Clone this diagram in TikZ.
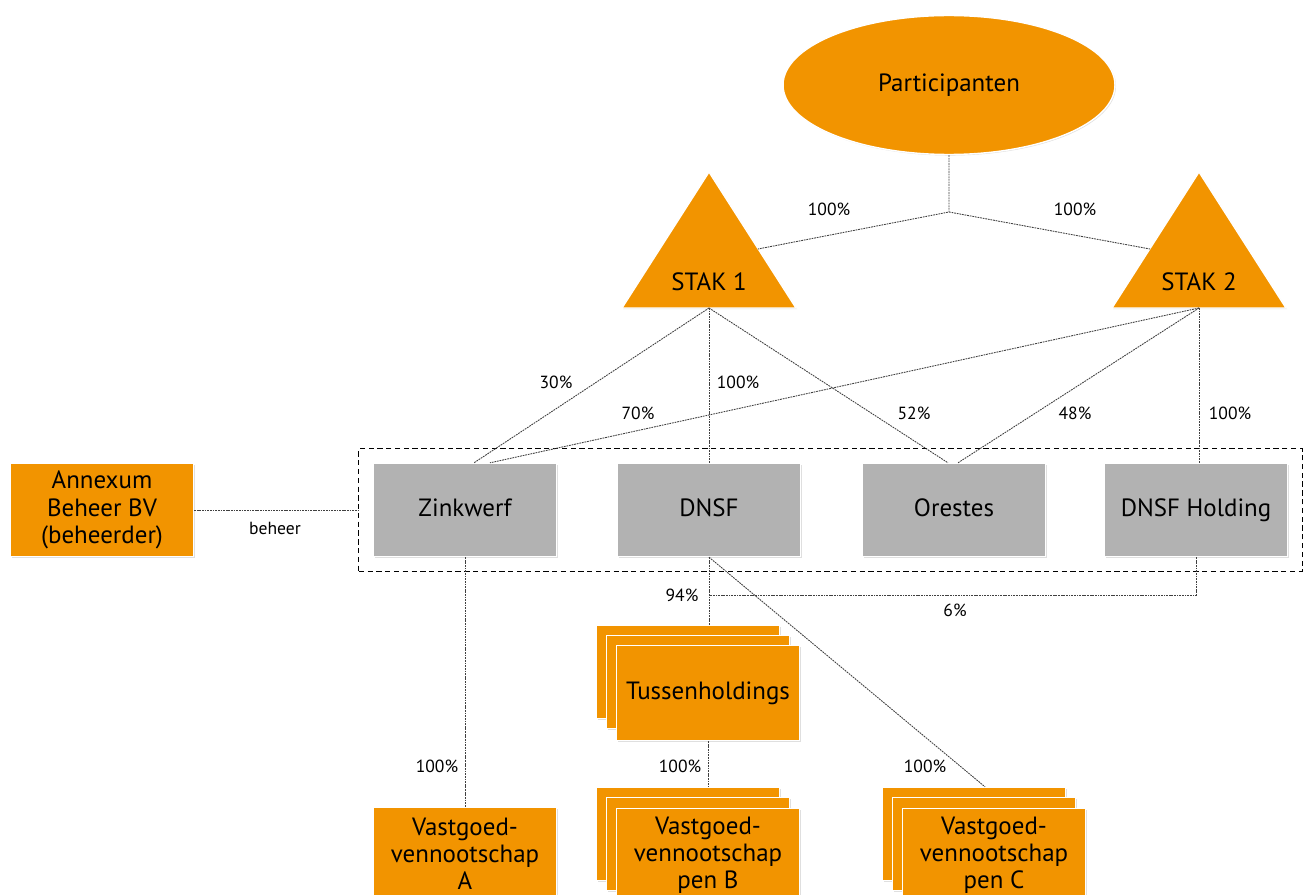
\documentclass[tikz,border=0pt]{standalone}
\usepackage{fontspec}
\setmainfont{PT Sans}
\usetikzlibrary{shapes.geometric,shadows,fit}
\definecolor{annexorange}{RGB}{242,148,0}
\definecolor{fundgray}{RGB}{178,178,178}

\begin{document}
\begin{tikzpicture}[x=0.02cm,y=-0.02cm,
  entity/.style={rectangle,draw=white,line width=0.8pt,fill=annexorange,minimum width=3.66cm,minimum height=1.86cm,align=center,font=\fontsize{14.2}{15.5}\selectfont,drop shadow={shadow xshift=0.6pt,shadow yshift=-0.6pt,opacity=0.25}},
  fund/.style={entity,fill=fundgray,text height=0.7em,text depth=0em},
  link/.style={dash pattern=on 1pt off 0.5pt,black!75,line width=0.5pt},
  pct/.style={font=\fontsize{10}{12}\selectfont}
]
\useasboundingbox (0,0) rectangle (1303,895);

% participanten en stichtingen
\node[entity,ellipse,minimum width=6.64cm,minimum height=2.78cm,text height=0.7em,text depth=0em] (part) at (949,85) {Participanten};

\coordinate (s1top) at (709,172);
\coordinate (s1base) at (709,308);
\coordinate (s1side) at (758,249);
\filldraw[fill=annexorange,draw=white,line width=0.8pt,drop shadow={shadow xshift=0.6pt,shadow yshift=-0.6pt,opacity=0.25}] (s1top) -- (622,308) -- (796,308) -- cycle;
\node[font=\fontsize{14.2}{15.5}\selectfont] (stak1) at (709,282) {STAK 1};

\coordinate (s2top) at (1199,172);
\coordinate (s2base) at (1199,308);
\coordinate (s2side) at (1150,249);
\filldraw[fill=annexorange,draw=white,line width=0.8pt,drop shadow={shadow xshift=0.6pt,shadow yshift=-0.6pt,opacity=0.25}] (s2top) -- (1112,308) -- (1286,308) -- cycle;
\node[font=\fontsize{14.2}{15.5}\selectfont] (stak2) at (1199,282) {STAK 2};

\coordinate (split) at (949,212);
\draw[link] (part.south) -- (split) -- (s1side);
\draw[link] (split) -- (s2side);
\node[pct] (p1) at (829,209) {100\%};
\node[pct] (p2) at (1075,209) {100\%};

% fondsen
\node[fund] (zink) at (465,510) {Zinkwerf};
\node[fund] (dnsf) at (709,510) {DNSF};
\node[fund] (ores) at (954,510) {Orestes};
\node[fund] (hold) at (1196,510) {DNSF Holding};
\node[draw,dash pattern=on 3pt off 2pt,line width=0.7pt,inner sep=0.28cm,fit=(zink)(hold)] (fonds) {};

\node[entity] (annex) at (102,510) {Annexum\\Beheer BV\\(beheerder)};
\draw[link] (annex.east) -- (annex.east -| fonds.west);
\node[pct] (beh) at (275,528) {beheer};

\draw[link] (s1base) -- ([xshift=0.18cm]zink.north);
\draw[link] (s1base) -- (dnsf.north);
\draw[link] (s1base) -- ([xshift=-0.12cm]ores.north);
\draw[link] (s2base) -- ([xshift=0.5cm]zink.north);
\draw[link] (s2base) -- ([xshift=0.08cm]ores.north);
\draw[link] (s2base) -- (hold.north -| s2base);
\node[pct] (p3) at (556,382) {30\%};
\node[pct] (p4) at (738,382) {100\%};
\node[pct] (p5) at (638,413) {70\%};
\node[pct] (p6) at (914,413) {52\%};
\node[pct] (p7) at (1075,413) {48\%};
\node[pct] (p8) at (1230,413) {100\%};

% vastgoed
\node[entity] (vga) at (465,854) {Vastgoed-\\vennootschap\\A};

\node[entity] (tus3) at (688,672) {};
\node[entity] (tus2) at (698,682) {};
\node[entity,minimum height=1.9cm] (tus) at (708,693) {Tussenholdings};

\node[entity] (vgb3) at (688,834) {};
\node[entity] (vgb2) at (698,844) {};
\node[entity] (vgb) at (708,855) {Vastgoed-\\vennootschap\\pen B};

\node[entity] (vgc3) at (974,834) {};
\node[entity] (vgc2) at (984,844) {};
\node[entity] (vgc) at (994,855) {Vastgoed-\\vennootschap\\pen C};

\coordinate (split2) at (709,595);
\draw[link] (zink.south) -- (zink.south |- vga.north);
\draw[link] (dnsf.south) -- (dnsf.south |- tus3.north);
\draw[link] (hold.south) |- (split2);
\draw[link] (dnsf.south) -- ([xshift=0.22cm]vgc3.north);
\draw[link] (tus.south) -- (tus.south |- vgb3.north);
\node[pct] (p9) at (682,595) {94\%};
\node[pct] (p10) at (955,610) {6\%};
\node[pct] (p11) at (437,766) {100\%};
\node[pct] (p12) at (680,766) {100\%};
\node[pct] (p13) at (925,766) {100\%};

\end{tikzpicture}
\end{document}
